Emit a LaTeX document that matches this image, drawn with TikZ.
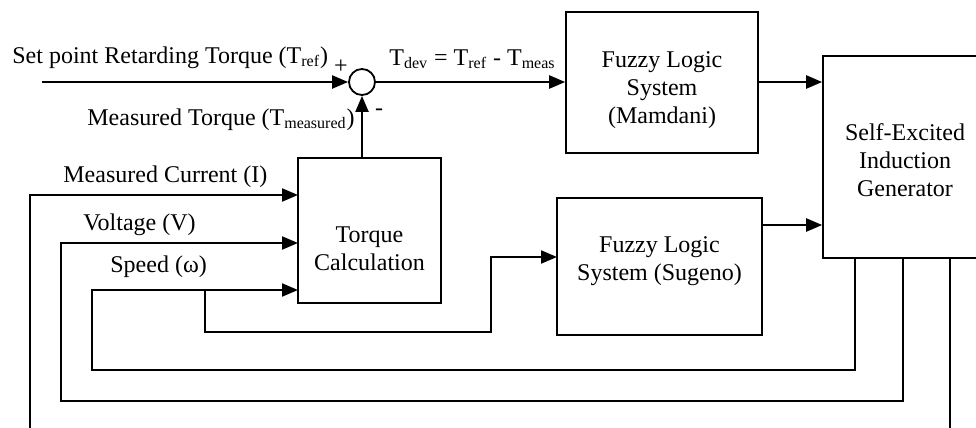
\documentclass[tikz,border=0pt]{standalone}
\usepackage{fontspec}
\setmainfont{Liberation Serif}
\usetikzlibrary{arrows.meta}
\begin{document}
\begin{tikzpicture}[x=0.5pt, y=-0.5pt,
	block/.style = {draw, line width=0.8pt, rectangle, inner sep=0pt},
	sumnode/.style = {draw, line width=0.9pt, circle, minimum size=13pt, inner sep=0pt},
	txt/.style = {inner sep=0pt, align=center, font=\fontsize{12pt}{14pt}\selectfont},
	arr/.style = {line width=1.1pt, -{Triangle[length=8pt, width=6.5pt]}}]
	\useasboundingbox (0,0) rectangle (976,428);
	\clip (0,0) rectangle (976,428);
	% blocks
	\node[sumnode] (sum) at (362,82) {};
	\node[block, minimum width=96pt, minimum height=70.5pt] (mamdani) at (662,82.5) {};
	\node[block, minimum width=82pt, minimum height=101pt] (seig) at (905,157) {};
	\node[block, minimum width=71.5pt, minimum height=72.5pt] (torque) at (369.5,230.5) {};
	\node[block, minimum width=102.5pt, minimum height=68.5pt] (sugeno) at (659.5,266.5) {};
	\node[txt] (mamdanitxt) at (662,90) {Fuzzy Logic\\System\\(Mamdani)};
	\node[txt] (seigtxt) at (905,160) {Self-Excited\\Induction\\Generator};
	\node[txt] (torquetxt) at (369.5,249) {Torque\\Calculation};
	\node[txt] (sugenotxt) at (659.5,261) {Fuzzy Logic\\System (Sugeno)};
	% labels
	\node[txt, anchor=base west] (setlbl) at (12,63) {Set point Retarding Torque (T\textsubscript{ref})};
	\node[txt] (plus) at (341,67) {+};
	\node[txt] (minus) at (379,112) {-};
	\node[txt, anchor=base west] (devlbl) at (389,65) {T\textsubscript{dev} = T\textsubscript{ref} - T\textsubscript{meas}};
	\node[txt, anchor=base west] (tmlbl) at (87,125) {Measured Torque (T\textsubscript{measured})};
	\node[txt, anchor=base west] (ilbl) at (63,182) {Measured Current (I)};
	\node[txt, anchor=base west] (vlbl) at (83,230) {Voltage (V)};
	\node[txt, anchor=base west] (wlbl) at (110,272) {Speed (ω)};
	% connection points
	\coordinate (setin) at (42,82);
	\coordinate (tin1) at (298,195);
	\coordinate (tin2) at (298,243);
	\coordinate (tin3) at (298,290);
	\coordinate (sin) at (557,257);
	\coordinate (sout) at (762,225);
	\coordinate (wtap) at (855,258);
	\coordinate (vtap) at (903,258);
	\coordinate (itap) at (950,258);
	\coordinate (wbranch) at (205,290);
	% connectors
	\draw[arr] (setin) -- (sum.west);
	\draw[arr] (sum.east) -- (sum.east -| mamdani.west);
	\draw[arr] (torque.north -| sum) -- (sum.south);
	\draw[arr] (mamdani.east |- sum) -- (sum -| seig.west);
	\draw[arr] (sout) -- (sout -| seig.west);
	\draw[arr] (itap) |- (30,440) |- (tin1);
	\draw[arr] (vtap) |- (61,401) |- (tin2);
	\draw[arr] (wtap) |- (92,370) |- (tin3);
	\draw[arr] (wbranch) |- (491,332) |- (sin);
\end{tikzpicture}
\end{document}
